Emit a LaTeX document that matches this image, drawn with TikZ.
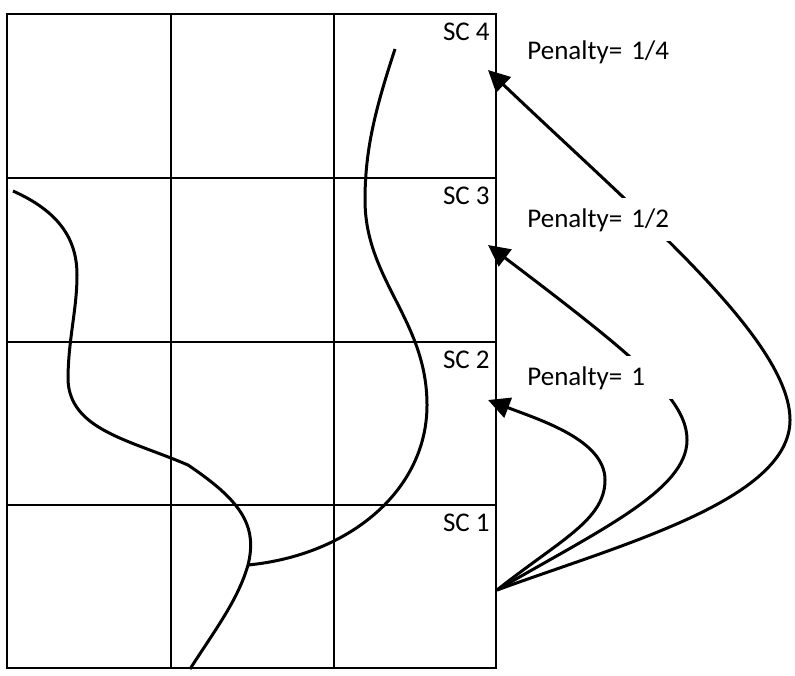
\documentclass[tikz,border=0pt]{standalone}
\usepackage{fontspec}
\setmainfont{Carlito}
\usetikzlibrary{arrows.meta}

\begin{document}
\begin{tikzpicture}[x={(0.5pt,0)},y={(0,-0.5pt)},
    cell/.style={line width=1.1pt},
    route/.style={line width=1.5pt},
    penalty/.style={line width=1.5pt,-{Triangle[length=10.8pt,width=10.5pt]}},
    sclabel/.style={anchor=base east,inner sep=0pt,font=\fontsize{13.5}{16}\selectfont},
    penlabel/.style={anchor=base west,fill=white,inner xsep=2pt,inner ysep=5pt,
      text width=72pt,align=left,font=\fontsize{13.5}{16}\selectfont}]
    \useasboundingbox (0,0) rectangle (795,675);
    % grid of cells
    \draw[cell] (7,14) rectangle (496,668);
    \draw[cell] (171,14) -- (171,668);
    \draw[cell] (334,14) -- (334,668);
    \draw[cell] (7,178) -- (496,178);
    \draw[cell] (7,342) -- (496,342);
    \draw[cell] (7,505) -- (496,505);
    % routes
    \draw[route] (13,191) .. controls (60,212) and (77,240) .. (77,275)
      .. controls (77,310) and (68,340) .. (68,380)
      .. controls (70,430) and (130,440) .. (188,465)
      .. controls (240,500) and (258,525) .. (248,565) coordinate (junc)
      .. controls (238,600) and (215,630) .. (190,669);
    \draw[route] (395,49) .. controls (375,110) and (365,150) .. (365,200)
      .. controls (365,280) and (427,320) .. (427,405)
      .. controls (427,490) and (350,555) .. (junc);
    % penalty arrows
    \coordinate (src) at (497,590);
    \coordinate (t1) at (488,400);
    \coordinate (t2) at (488,245);
    \coordinate (t4) at (488,70);
    \draw[penalty] (src) .. controls (560,540) and (605,520) .. (605,480)
      .. controls (605,440) and (540,420) .. (t1);
    \draw[penalty] (src) .. controls (600,530) and (687,490) .. (687,440)
      .. controls (687,400) and (640,360) .. (t2);
    \draw[penalty] (src) .. controls (620,545) and (790,500) .. (790,420)
      .. controls (790,340) and (640,215) .. (t4);
    % labels
    \node[sclabel] (sc4) at (490,40) {SC 4};
    \node[sclabel] (sc3) at (490,204) {SC 3};
    \node[sclabel] (sc2) at (490,368) {SC 2};
    \node[sclabel] (sc1) at (490,531) {SC 1};
    \node[penlabel] (p4) at (523,59) {Penalty= 1/4};
    \node[penlabel] (p2) at (523,227) {Penalty= 1/2};
    \node[penlabel] (p1) at (523,385) {Penalty= 1};
\end{tikzpicture}
\end{document}
